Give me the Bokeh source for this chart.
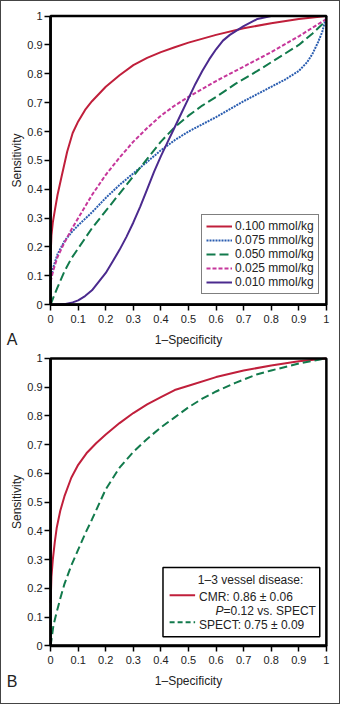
from bokeh.plotting import figure
from bokeh.models import Range1d, FixedTicker, Legend, LegendItem, Label, BoxAnnotation, Arrow
from bokeh.layouts import column
from bokeh.embed import file_html
from bokeh.resources import INLINE

# ---------------- data ----------------
TICKS = [0, 0.1, 0.2, 0.3, 0.4, 0.5, 0.6, 0.7, 0.8, 0.9, 1]
TICK_LABELS = ["0", "0.1", "0.2", "0.3", "0.4", "0.5", "0.6", "0.7", "0.8", "0.9", "1"]

# Panel A
a100_x = [0, 0.003, 0.008, 0.015, 0.025, 0.04, 0.06, 0.08, 0.1, 0.125, 0.15, 0.2, 0.25, 0.3, 0.35, 0.4, 0.45, 0.5, 0.6, 0.7, 0.8, 0.9, 1.0]
a100_y = [0.17, 0.24, 0.285, 0.325, 0.38, 0.445, 0.53, 0.595, 0.635, 0.675, 0.705, 0.755, 0.795, 0.83, 0.855, 0.875, 0.892, 0.908, 0.935, 0.958, 0.975, 0.99, 1.0]

a075_x = [0, 0.01, 0.025, 0.05, 0.075, 0.1, 0.15, 0.2, 0.25, 0.3, 0.35, 0.4, 0.45, 0.5, 0.6, 0.7, 0.8, 0.85, 0.9, 0.93, 0.95, 0.97, 0.985, 1.0]
a075_y = [0.09, 0.13, 0.175, 0.22, 0.25, 0.275, 0.32, 0.37, 0.415, 0.455, 0.495, 0.535, 0.57, 0.6, 0.65, 0.705, 0.755, 0.78, 0.81, 0.84, 0.87, 0.91, 0.945, 1.0]

a050_x = [0, 0.01, 0.025, 0.05, 0.075, 0.1, 0.15, 0.2, 0.25, 0.3, 0.35, 0.4, 0.45, 0.5, 0.55, 0.6, 0.67, 0.75, 0.8, 0.85, 0.9, 0.95, 1.0]
a050_y = [0, 0.025, 0.06, 0.115, 0.16, 0.195, 0.265, 0.325, 0.385, 0.445, 0.505, 0.565, 0.615, 0.655, 0.69, 0.72, 0.765, 0.81, 0.84, 0.87, 0.9, 0.94, 0.985]

a025_x = [0, 0.01, 0.025, 0.05, 0.075, 0.1, 0.15, 0.2, 0.25, 0.3, 0.35, 0.4, 0.45, 0.5, 0.6, 0.7, 0.8, 0.9, 0.95, 1.0]
a025_y = [0.08, 0.12, 0.165, 0.215, 0.26, 0.3, 0.38, 0.45, 0.51, 0.565, 0.612, 0.655, 0.69, 0.72, 0.775, 0.825, 0.875, 0.93, 0.96, 0.99]

a010_x = [0, 0.05, 0.08, 0.1, 0.125, 0.15, 0.175, 0.2, 0.225, 0.25, 0.275, 0.3, 0.325, 0.35, 0.375, 0.4, 0.425, 0.45, 0.475, 0.5, 0.525, 0.55, 0.575, 0.6, 0.625, 0.65, 0.7, 0.75, 0.8, 1.0]
a010_y = [0, 0.002, 0.008, 0.015, 0.03, 0.05, 0.08, 0.11, 0.15, 0.19, 0.235, 0.285, 0.34, 0.4, 0.46, 0.515, 0.565, 0.615, 0.665, 0.715, 0.765, 0.81, 0.85, 0.885, 0.915, 0.935, 0.965, 0.99, 1.0, 1.0]

A_LABELS = ["0.100 mmol/kg", "0.075 mmol/kg", "0.050 mmol/kg", "0.025 mmol/kg", "0.010 mmol/kg"]

# Panel B
cmr_x = [0, 0.003, 0.008, 0.015, 0.022, 0.035, 0.05, 0.075, 0.1, 0.13, 0.165, 0.2, 0.25, 0.3, 0.35, 0.4, 0.45, 0.5, 0.6, 0.7, 0.8, 0.9, 1.0]
cmr_y = [0.15, 0.24, 0.3, 0.36, 0.41, 0.47, 0.52, 0.585, 0.63, 0.67, 0.705, 0.735, 0.775, 0.81, 0.84, 0.865, 0.89, 0.905, 0.935, 0.958, 0.975, 0.99, 1.0]

spect_x = [0, 0.01, 0.02, 0.035, 0.05, 0.075, 0.1, 0.125, 0.15, 0.2, 0.25, 0.3, 0.35, 0.4, 0.45, 0.5, 0.55, 0.6, 0.67, 0.75, 0.8, 0.9, 1.0]
spect_y = [0, 0.07, 0.11, 0.165, 0.215, 0.28, 0.335, 0.39, 0.44, 0.545, 0.62, 0.675, 0.72, 0.76, 0.795, 0.83, 0.86, 0.885, 0.915, 0.945, 0.958, 0.982, 1.0]

B_TITLE = "1–3 vessel disease:"
B_CMR = "CMR: 0.86 ± 0.06"
B_P = "P"
B_PTXT = "=0.12 vs. SPECT"
B_SPECT = "SPECT: 0.75 ± 0.09"

# ---------------- style ----------------
FONT = "Liberation Sans"
RED = "#c01f3b"
BLUE = "#2a5db0"
GREEN = "#127a4c"
MAGENTA = "#c6379b"
PURPLE = "#4b2a8e"
TXT = "#222222"


def make_fig(height, x_rng, y_rng, panel_letter, letter_y):
    # the frame covers the whole canvas; the axes sit at data 0 (fixed_location)
    p = figure(width=340, height=height, output_backend="svg", toolbar_location=None,
               x_range=Range1d(*x_rng), y_range=Range1d(*y_rng),
               min_border_left=0, min_border_right=0, min_border_top=0, min_border_bottom=0)
    p.grid.visible = False
    p.outline_line_color = None
    p.background_fill_color = "white"
    p.border_fill_color = "white"
    for ax in (p.xaxis[0], p.yaxis[0]):
        ax.fixed_location = 0
        ax.bounds = (0, 1)
        ax.ticker = FixedTicker(ticks=TICKS)
        ax.major_label_overrides = {t: l for t, l in zip(TICKS, TICK_LABELS)}
        ax.minor_tick_line_color = None
        ax.major_tick_in = 0
        ax.major_tick_out = 6
        ax.major_tick_line_width = 1.5
        ax.major_tick_line_color = "black"
        ax.axis_line_width = 2.5
        ax.axis_line_color = "black"
        ax.major_label_text_font = FONT
        ax.major_label_text_font_size = "11px"
        ax.major_label_text_color = TXT
        ax.axis_label_text_font = FONT
        ax.axis_label_text_font_size = "12px"
        ax.axis_label_text_font_style = "normal"
        ax.axis_label_text_color = TXT
    p.xaxis.major_label_standoff = 4
    p.yaxis.major_label_standoff = 2
    p.xaxis.axis_label = "1–Specificity"
    p.yaxis.axis_label = "Sensitivity"
    p.xaxis.axis_label_standoff = 7
    p.yaxis.axis_label_standoff = 0
    # plot-area box
    p.add_layout(BoxAnnotation(left=0, right=1, bottom=0, top=1, fill_color=None,
                               line_color="black", line_width=2.5, line_alpha=1))
    p.add_layout(Label(x=-0.14, y=letter_y, text=panel_letter, text_font=FONT, text_font_size="16px",
                       text_color=TXT, text_align="center", text_baseline="middle"))
    return p


# ---------------- panel A ----------------
pa = make_fig(347, (-0.1781, 1.0476), (-0.1518, 1.0506), "A", -0.1216)
r1 = pa.line(a100_x, a100_y, line_color=RED, line_width=2)
r2 = pa.line(a075_x, a075_y, line_color=BLUE, line_width=2, line_dash="2 1")
r3 = pa.line(a050_x, a050_y, line_color=GREEN, line_width=2, line_dash="9 4")
r4 = pa.line(a025_x, a025_y, line_color=MAGENTA, line_width=2, line_dash="4 2")
r5 = pa.line(a010_x, a010_y, line_color=PURPLE, line_width=2)

leg = Legend(items=[LegendItem(label=lab, renderers=[r]) for lab, r in zip(A_LABELS, [r1, r2, r3, r4, r5])],
             location=(200, 54), margin=0, padding=4, spacing=0,
             glyph_width=26, glyph_height=14, label_height=14, label_standoff=3,
             label_text_font=FONT, label_text_font_size="12px", label_text_color=TXT,
             border_line_color="black", border_line_width=1.5, background_fill_alpha=1)
pa.add_layout(leg)

# ---------------- panel B ----------------
pb = make_fig(355, (-0.1781, 1.0476), (-0.2, 1.0344), "B", -0.125)
pb.line(cmr_x, cmr_y, line_color=RED, line_width=2)
pb.line(spect_x, spect_y, line_color=GREEN, line_width=2, line_dash="8 4")

pb.add_layout(BoxAnnotation(left=0.4075, right=0.976, bottom=0.032, top=0.273,
                            fill_color="white", fill_alpha=1, line_color="black",
                            line_width=1.5, line_alpha=1))
pb.add_layout(Arrow(start=None, end=None, x_start=0.4315, y_start=0.176, x_end=0.524, y_end=0.176,
                    line_color=RED, line_width=2))
pb.add_layout(Arrow(start=None, end=None, x_start=0.4315, y_start=0.0825, x_end=0.524, y_end=0.0825,
                    line_color=GREEN, line_width=2, line_dash="5 3"))
lab_kw = dict(text_font=FONT, text_font_size="12px", text_color=TXT, text_baseline="middle")
pb.add_layout(Label(x=0.534, y=0.2295, text=B_TITLE, **lab_kw))
pb.add_layout(Label(x=0.538, y=0.1695, text=B_CMR, **lab_kw))
pb.add_layout(Label(x=0.598, y=0.122, text=B_P, text_font_style="italic", **lab_kw))
pb.add_layout(Label(x=0.598, y=0.122, x_offset=8, text=B_PTXT, **lab_kw))
pb.add_layout(Label(x=0.538, y=0.0746, text=B_SPECT, **lab_kw))

layout = column(pa, pb, styles={"border": "1px solid #444", "width": "340px"})
open("out.html", "w").write(file_html(layout, INLINE))
